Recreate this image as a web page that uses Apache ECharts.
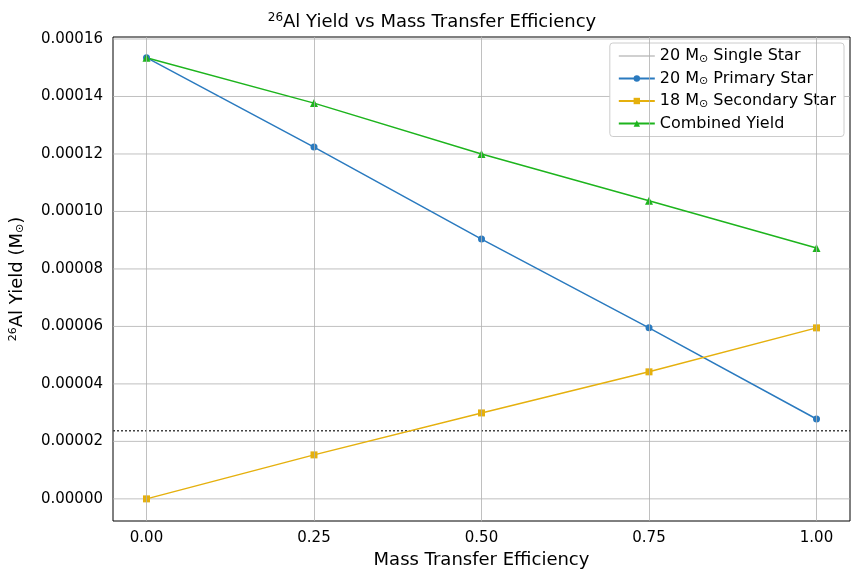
<!DOCTYPE html>
<html><head><meta charset="utf-8">
<script src="https://cdn.jsdelivr.net/npm/echarts@6/dist/echarts.min.js"></script>
<style>html,body{margin:0;padding:0;background:#fff}#c{width:864px;height:576px}</style>
</head><body><div id="c"></div>
<script>
const efficiency = [0, 0.25, 0.5, 0.75, 1.0];
const primary = [0.0001535, 0.0001224, 0.0000904, 0.0000595, 0.0000278];
const secondary = [0.0, 0.0000153, 0.0000299, 0.0000442, 0.0000595];
const combined = [0.0001535, 0.0001377, 0.0001200, 0.0001037, 0.0000873];
const singleStar = 0.0000237;
const xTicks = [0, 0.25, 0.5, 0.75, 1.0];
const yTicks = [0, 0.00002, 0.00004, 0.00006, 0.00008, 0.0001, 0.00012, 0.00014, 0.00016];
const xMin = -0.05, xMax = 1.05;

const font = 'DejaVu Sans';
const gridLine = {color: '#b0b0b0', width: 0.8, type: 'solid'};
const pair = (xs, ys) => xs.map((x, i) => [x, ys[i]]);
const rich = {sup: {fontSize: 11, padding: [0,0,8,0], fontFamily: font, color: '#000'},
              sub: {fontSize: 11, padding: [6,0,0,0], fontFamily: font, color: '#000'}};

const gridSeries = yTicks.map(y => ({type: 'line', data: [[xMin, y], [xMax, y]], symbol: 'none', silent: true, z: 1,
  lineStyle: gridLine, legendHoverLink: false}));
gridSeries.push({type: 'line', data: [], silent: true, z: 1,
  markLine: {silent: true, symbol: 'none', label: {show: false}, lineStyle: gridLine, data: xTicks.map(x => ({xAxis: x}))}});

const chart = echarts.init(document.getElementById('c'));
chart.setOption({
  animation: false,
  textStyle: {fontFamily: font},
  title: {text: '{sup|26}Al Yield vs Mass Transfer Efficiency', left: 'center', top: 7,
    textStyle: {fontSize: 18, fontWeight: 'normal', color: '#000', fontFamily: font, rich: {sup: {fontSize: 12, padding: [0,0,8,0], fontFamily: font, color: '#000'}}}},
  grid: {left: 110, right: 14, top: 37, bottom: 55, show: true, borderColor: '#000', borderWidth: 1},
  legend: {right: 20, top: 43, orient: 'vertical', backgroundColor: '#fff', borderColor: '#ccc', borderWidth: 1,
    borderRadius: 3, padding: [5, 8], itemGap: 6, itemWidth: 36, itemHeight: 8,
    textStyle: {fontSize: 16, color: '#000', fontFamily: font, rich: {sub: {fontSize: 11, padding: [6,0,0,0], fontFamily: font, color: '#000'}, n: {fontSize: 16, fontFamily: font, color: '#000'}}},
    data: [{name: 's', icon: 'path://M0,0h1v0.01h-1z'}, 'p', 'q', 'c'],
    formatter: n => ({s: '{n|20 M}{sub|⊙}{n| Single Star}', p: '{n|20 M}{sub|⊙}{n| Primary Star}', q: '{n|18 M}{sub|⊙}{n| Secondary Star}', c: '{n|Combined Yield}'})[n]},
  xAxis: {type: 'value', min: xMin, max: xMax, splitLine: {show: false},
    name: 'Mass Transfer Efficiency', nameLocation: 'middle', nameGap: 30,
    nameTextStyle: {fontSize: 18, color: '#000', fontFamily: font},
    axisLine: {show: false}, axisTick: {show: false},
    axisLabel: {customValues: xTicks, fontSize: 15, color: '#000', fontFamily: font, margin: 10, formatter: v => v.toFixed(2)}},
  yAxis: {type: 'value', min: -0.0000077, max: 0.0001607, splitLine: {show: false},
    name: '{sup|26}Al Yield (M{sub|⊙})', nameLocation: 'middle', nameGap: 86,
    nameTextStyle: {fontSize: 18, color: '#000', fontFamily: font, rich: rich},
    axisLine: {show: false}, axisTick: {show: false},
    axisLabel: {customValues: yTicks, fontSize: 15, color: '#000', fontFamily: font, margin: 10, formatter: v => v.toFixed(5)}},
  series: gridSeries.concat([
    {name: 's', type: 'line', data: [[xMin, singleStar], [xMax, singleStar]], symbol: 'none', z: 3,
      lineStyle: {color: '#444', width: 1.5, type: [2, 2]}, itemStyle: {color: '#444'}},
    {name: 'p', type: 'line', data: pair(efficiency, primary), symbol: 'circle', symbolSize: 7, z: 4,
      lineStyle: {color: '#2a7abf', width: 1.5}, itemStyle: {color: '#2a7abf'}},
    {name: 'q', type: 'line', data: pair(efficiency, secondary), symbol: 'rect', symbolSize: 7, z: 4,
      lineStyle: {color: '#e5b00d', width: 1.5}, itemStyle: {color: '#e5b00d'}},
    {name: 'c', type: 'line', data: pair(efficiency, combined), symbol: 'triangle', symbolSize: 8, z: 4,
      lineStyle: {color: '#1db41d', width: 1.5}, itemStyle: {color: '#1db41d'}}
  ])
});
</script></body></html>
